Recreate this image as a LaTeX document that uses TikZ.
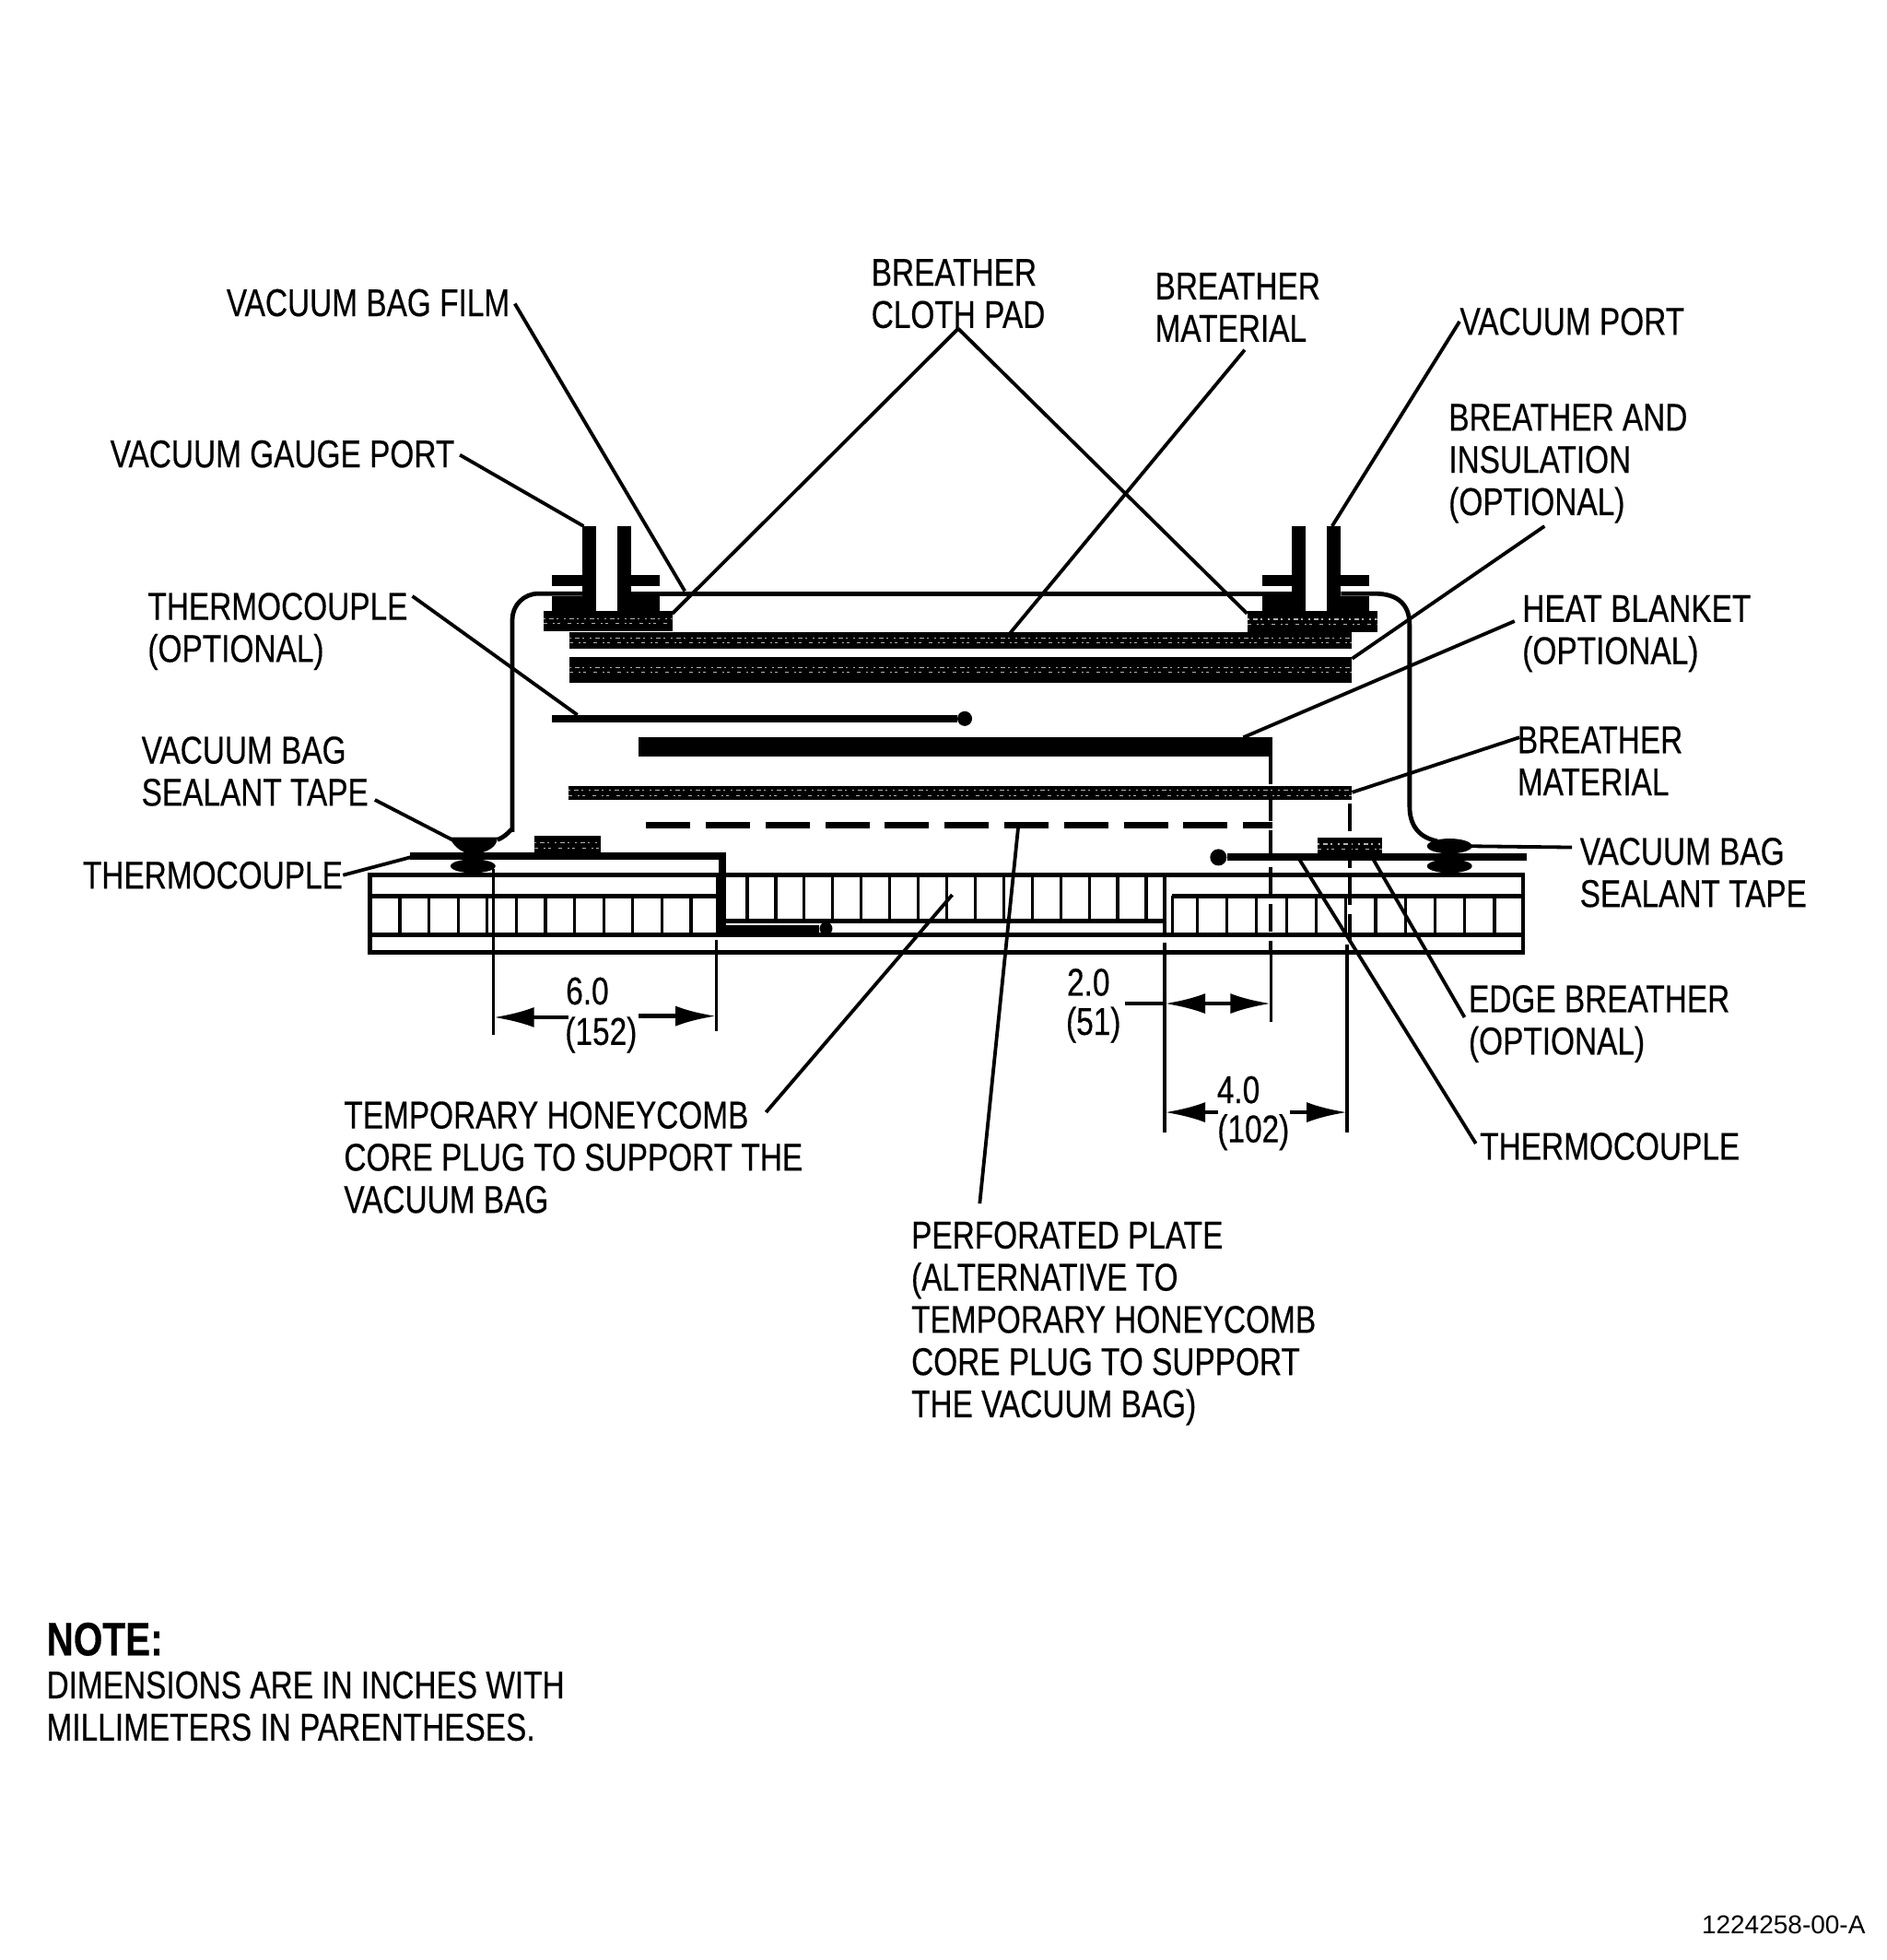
\documentclass[tikz,border=0pt]{standalone}
\usepackage{fontspec}
\usepackage{tikz}
\usetikzlibrary{arrows.meta}
\setmainfont[FakeStretch=0.795, FakeBold=0.4]{Liberation Sans}
\newfontfamily\plainfont{Liberation Sans}

\tikzset{
    lbl/.style={anchor=north west, inner sep=0pt, align=left, font=\fontsize{21}{22.9}\selectfont},
    dimlbl/.style={anchor=center, inner sep=0pt, font=\fontsize{21}{22.9}\selectfont},
    leader/.style={line width=1.9pt},
    cell/.style={line width=1.6pt},
    skin/.style={line width=2.2pt},
    tc/.style={line width=4pt},
    dimarrow/.style={line width=2.2pt, -{Latex[length=22pt,width=11pt]}},
    breather/.style={fill=black, path picture={
        \draw[white!70!black, line width=0.6pt, dash pattern=on 1pt off 2pt on 2.5pt off 1.5pt on 1pt off 3pt]
            ([yshift=1.4pt]path picture bounding box.west) -- ([yshift=1.4pt]path picture bounding box.east);
        \draw[white!70!black, line width=0.6pt, dash pattern=on 2pt off 3pt on 1pt off 1.5pt on 1.5pt off 4pt]
            ([yshift=-1.4pt]path picture bounding box.west) -- ([yshift=-1.4pt]path picture bounding box.east);}},
    hiddenline/.style={line width=2pt, dash pattern=on 15pt off 5pt}
}

\begin{document}
\begin{tikzpicture}[x=0.67815pt, y=-0.67815pt]
        \useasboundingbox (0, 0) rectangle (1510, 1568.3);

        % labels
        \node[lbl] (film) at (181, 231) {VACUUM BAG FILM};
        \node[lbl] (cloth) at (697, 207) {BREATHER\\CLOTH PAD};
        \node[lbl] (mat) at (924, 218) {BREATHER\\MATERIAL};
        \node[lbl] (port) at (1168, 246) {VACUUM PORT};
        \node[lbl] (gauge) at (88, 352) {VACUUM GAUGE PORT};
        \node[lbl] (insul) at (1159, 323) {BREATHER AND\\INSULATION\\(OPTIONAL)};
        \node[lbl] (tcopt) at (118, 474) {THERMOCOUPLE\\(OPTIONAL)};
        \node[lbl] (blanket) at (1218, 476) {HEAT BLANKET\\(OPTIONAL)};
        \node[lbl] (tapeL) at (113, 589) {VACUUM BAG\\SEALANT TAPE};
        \node[lbl] (matR) at (1214, 581) {BREATHER\\MATERIAL};
        \node[lbl] (tcL) at (66, 689) {THERMOCOUPLE};
        \node[lbl] (tapeR) at (1264, 670) {VACUUM BAG\\SEALANT TAPE};
        \node[lbl] (edge) at (1175, 788) {EDGE BREATHER\\(OPTIONAL)};
        \node[lbl] (tcR) at (1184, 906) {THERMOCOUPLE};
        \node[lbl] (plug) at (275, 881) {TEMPORARY HONEYCOMB\\CORE PLUG TO SUPPORT THE\\VACUUM BAG};
        \node[lbl] (plate) at (729, 977) {PERFORATED PLATE\\(ALTERNATIVE TO\\TEMPORARY HONEYCOMB\\CORE PLUG TO SUPPORT\\THE VACUUM BAG)};
        \node[lbl, font=\fontsize{25.5}{27}\selectfont\bfseries] (note) at (37, 1298) {NOTE:};
        \node[lbl] (notetxt) at (37, 1337) {DIMENSIONS ARE IN INCHES WITH\\MILLIMETERS IN PARENTHESES.};
        \node[anchor=east, inner sep=0pt, font=\fontsize{14}{15}\plainfont] (refno) at (1493, 1540) {1224258-00-A};

        \node[dimlbl] (sixA) at (470, 793) {6.0};
        \node[dimlbl] (sixB) at (481, 828) {(152)};
        \node[dimlbl] (twoA) at (871, 786) {2.0};
        \node[dimlbl] (twoB) at (875, 820) {(51)};
        \node[dimlbl] (fourA) at (991, 872) {4.0};
        \node[dimlbl] (fourB) at (1003, 906) {(102)};

        % ports and flanges
        \foreach \dx in {0, 568} {
            \fill (466+\dx, 421) rectangle (477+\dx, 490);
            \fill (494+\dx, 421) rectangle (505+\dx, 490);
            \fill (442+\dx, 460) rectangle (477+\dx, 469);
            \fill (494+\dx, 460) rectangle (528+\dx, 469);
            \fill (442+\dx, 477) rectangle (477+\dx, 489);
            \fill (494+\dx, 477) rectangle (528+\dx, 489);
        }

        % bag film
        \draw[line width=2.4pt, rounded corners=14pt] (398, 672) .. controls (408, 668) and (410, 660) .. (410, 645)
            -- (410, 475) -- (466, 475);
        \draw[line width=2.4pt] (505, 475) -- (1034, 475);
        \draw[line width=2.4pt] (1073, 475) -- (1100, 475) .. controls (1120, 475) and (1128, 485) .. (1128, 500)
            -- (1128, 645) .. controls (1128, 660) and (1135, 670) .. (1150, 673);

        % layers
        \path[breather] (435, 489) rectangle (538, 505);
        \path[breather] (998, 489) rectangle (1102, 506);
        \path[breather] (456, 506) rectangle (1082, 519);
        \path[breather] (456, 526) rectangle (1082, 546);
        \fill (511, 590) rectangle (1018, 605);
        \path[breather] (455, 629) rectangle (1082, 640);
        \path[breather] (428, 669) rectangle (481, 684);
        \path[breather] (1054, 670) rectangle (1106, 685);

        % perforated plate
        \draw[line width=3.6pt, dash pattern=on 24pt off 8.4pt] (517, 660) -- (1018, 660);

        % honeycomb skin and walls
        \draw[skin] (296, 700) rectangle (1219, 762);
        \draw[line width=2.8pt] (296, 762) -- (1219, 762);
        \draw[skin] (296, 717) -- (574, 717);
        \draw[skin] (938, 717) -- (1219, 717);
        \draw[skin] (296, 748) -- (1219, 748);
        \draw[cell] (574, 700) -- (574, 748);
        \draw[skin] (580, 737) -- (932, 737);
        \draw[cell] (932, 700) -- (932, 748);
        \draw[cell] (938, 717) -- (938, 748);
        \foreach \i in {0,...,10}
            \draw[cell] (320+23.3*\i, 717) -- (320+23.3*\i, 748);
        \foreach \i in {0,...,14}
            \draw[cell] (598+22.8*\i, 700) -- (598+22.8*\i, 737);
        \foreach \i in {0,...,10}
            \draw[cell] (958+23.8*\i, 717) -- (958+23.8*\i, 748);

        % sealant tape
        \fill (360, 670) -- (398, 670) .. controls (398, 678) and (390, 682) .. (378, 684) .. controls (368, 682) and (362, 676) .. (360, 670) -- cycle;
        \fill (378.5, 693) ellipse [x radius=18, y radius=5.5];
        \fill (1160, 677) ellipse [x radius=18, y radius=6];
        \fill (1160, 693) ellipse [x radius=18, y radius=5.5];

        % thermocouples
        \node[circle, fill=black, inner sep=0pt, minimum size=8pt] (ballA) at (772, 575) {};
        \node[circle, fill=black, inner sep=0pt, minimum size=9pt] (ballB) at (975, 686) {};
        \node[circle, fill=black, inner sep=0pt, minimum size=7pt] (ballC) at (661, 743) {};
        \coordinate (tcAend) at (442, 575);
        \coordinate (tcBend) at (1222, 686);
        \coordinate (tcCend) at (328, 685);
        \path[tc] (tcAend) edge (ballA);
        \path[tc] (ballB) edge (tcBend);
        \draw[tc, line join=miter] (tcCend) -- (578, 685) -- (578, 743) -- (ballC);

        % hidden lines
        \draw[hiddenline] (1017, 605) -- (1017, 762);
        \draw[hiddenline] (1080, 643) -- (1080, 762);

        % extension lines
        \draw[cell] (395, 695) -- (395, 828);
        \draw[cell] (573, 752) -- (573, 825);
        \draw[cell] (932, 754) -- (932, 906);
        \draw[cell] (1017, 762) -- (1017, 818);
        \draw[cell] (1078, 756) -- (1078, 906);

        % dimensions
        \coordinate (sixL) at (395, 814);
        \coordinate (sixLs) at (455, 814);
        \coordinate (sixR) at (573, 813);
        \coordinate (sixRs) at (511, 813);
        \coordinate (twoS) at (900, 803);
        \coordinate (twoM) at (975, 803);
        \coordinate (twoL) at (932, 803);
        \coordinate (twoR) at (1017, 803);
        \coordinate (fourL) at (932, 890);
        \coordinate (fourLs) at (975, 890);
        \coordinate (fourR) at (1078, 890);
        \coordinate (fourRs) at (1032, 890);
        \path[dimarrow] (sixLs) edge (sixL);
        \path[dimarrow] (sixRs) edge (sixR);
        \path[line width=2.2pt] (twoS) edge (twoL);
        \path[dimarrow] (twoM) edge (twoL);
        \path[dimarrow] (twoM) edge (twoR);
        \path[dimarrow] (fourLs) edge (fourL);
        \path[dimarrow] (fourRs) edge (fourR);

        % leaders
        \coordinate (filmfoot) at (412, 243);
        \coordinate (filmpt) at (548, 473);
        \coordinate (padL) at (538, 491);
        \coordinate (padR) at (998, 491);
        \coordinate (matfoot) at (996, 280);
        \coordinate (matpt) at (808, 507);
        \coordinate (portpt) at (1066, 421);
        \coordinate (gaugefoot) at (368, 364);
        \coordinate (gaugept) at (467, 421);
        \coordinate (insulfoot) at (1236, 421);
        \coordinate (insulpt) at (1082, 527);
        \coordinate (tcoptfoot) at (330, 477);
        \coordinate (tcoptpt) at (462, 572);
        \coordinate (blanketfoot) at (1212, 497);
        \coordinate (blanketpt) at (995, 590);
        \coordinate (matRfoot) at (1216, 590);
        \coordinate (matRpt) at (1082, 634);
        \coordinate (tapeLfoot) at (300, 640);
        \coordinate (tapeLpt) at (362, 672);
        \coordinate (tcLpt) at (332, 685);
        \coordinate (tapeRfoot) at (1258, 678);
        \coordinate (tapeRpt) at (1172, 677);
        \coordinate (plugfoot) at (613, 890);
        \coordinate (plugpt) at (762, 716);
        \coordinate (platefoot) at (784, 963);
        \coordinate (platept) at (815, 660);
        \coordinate (edgefoot) at (1172, 814);
        \coordinate (edgept) at (1098, 686);
        \coordinate (tcRfoot) at (1181, 915);
        \coordinate (tcRpt) at (1040, 688);

        \path [leader] (filmfoot) edge (filmpt);
        \path [leader] (cloth.south) edge (padL);
        \path [leader] (cloth.south) edge (padR);
        \path [leader] (matfoot) edge (matpt);
        \path [leader] (port.west) edge (portpt);
        \path [leader] (gaugefoot) edge (gaugept);
        \path [leader] (insulfoot) edge (insulpt);
        \path [leader] (tcoptfoot) edge (tcoptpt);
        \path [leader] (blanketfoot) edge (blanketpt);
        \path [leader] (matRfoot) edge (matRpt);
        \path [leader] (tapeLfoot) edge (tapeLpt);
        \path [leader] (tcL.east) edge (tcLpt);
        \path [leader] (tapeRfoot) edge (tapeRpt);
        \path [leader] (plugfoot) edge (plugpt);
        \path [leader] (platefoot) edge (platept);
        \path [leader] (edgefoot) edge (edgept);
        \path [leader] (tcRfoot) edge (tcRpt);
    \end{tikzpicture}
\end{document}
